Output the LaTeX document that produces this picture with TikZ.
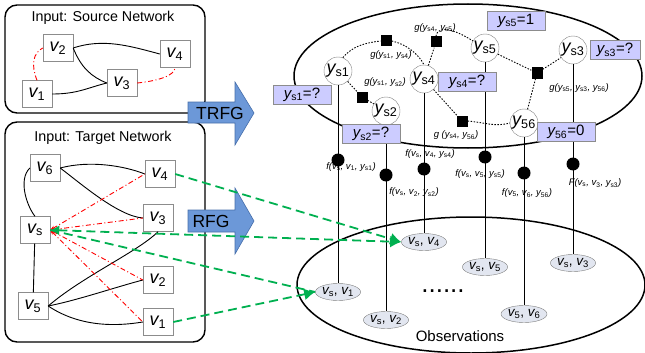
\documentclass[tikz,border=0pt]{standalone}
\usepackage{fontspec}
\setmainfont{Liberation Sans}
\usetikzlibrary{positioning, arrows.meta, shapes.geometric}

\definecolor{arrowblue}{RGB}{108,152,216}
\definecolor{arrowedge}{RGB}{70,110,170}
\definecolor{labfill}{RGB}{204,204,255}
\definecolor{obsfill}{RGB}{226,230,240}
\definecolor{dashgreen}{RGB}{0,176,80}

\newcommand{\vsub}[2]{{\itshape #1}\textsubscript{\upshape #2}}

\tikzset{
  netbox/.style={line width=1.4pt, rounded corners=12pt},
  boxtitle/.style={font=\fontsize{14.3}{16}\selectfont},
  netnode/.style={draw=black!45, fill=white, minimum width=30pt, minimum height=27pt,
    inner sep=0pt, font=\fontsize{18}{18}\selectfont},
  netedge/.style={line width=0.9pt, black},
  reddash/.style={red, line width=0.9pt, dash pattern=on 5pt off 2.5pt on 1pt off 2.5pt},
  greendash/.style={dashgreen, line width=1.8pt, dash pattern=on 9pt off 5pt},
  bigarrow/.style={fill=arrowblue, draw=arrowedge, line width=0.6pt},
  arrowtext/.style={font=\fontsize{17.5}{17.5}\selectfont},
  varnode/.style={circle, draw=black!50, fill=white, minimum size=28pt, inner sep=0pt,
    font=\fontsize{18}{18}\selectfont},
  factorsq/.style={fill=black, minimum size=11pt, inner sep=0pt},
  factordot/.style={circle, fill=black, minimum size=13pt, inner sep=0pt},
  factoredge/.style={line width=0.9pt, dash pattern=on 1.5pt off 1.5pt},
  flabel/.style={font=\fontsize{9.5}{10}\selectfont\itshape},
  vline/.style={line width=0.9pt},
  obsnode/.style={ellipse, draw=black!50, fill=obsfill, minimum width=43pt, minimum height=17pt,
    inner sep=0pt, font=\fontsize{13.5}{14}\selectfont},
  labbox/.style={draw=black!45, fill=labfill, minimum width=58pt, minimum height=19pt,
    inner sep=0pt, font=\fontsize{15}{15}\selectfont},
}

\begin{document}
\begin{tikzpicture}[x=1pt, y=-1pt]
  \useasboundingbox (0,0) rectangle (645,353);

  % source network
  \draw[netbox] (5,5) rectangle (205,113);
  \node[boxtitle] (stitle) at (103,18) {Input: Source Network};
  \node[netnode] (sv2) at (58,48) {\vsub{v}{2}};
  \node[netnode] (sv4) at (175,54) {\vsub{v}{4}};
  \node[netnode] (sv3) at (122,83) {\vsub{v}{3}};
  \node[netnode] (sv1) at (37,94) {\vsub{v}{1}};
  \draw[netedge] (sv2.east) .. controls +(30,-10) and +(-30,-8) .. (sv4.west);
  \draw[netedge] (sv2.east) .. controls +(8,20) and +(-15,-6) .. (sv3.west);
  \draw[netedge] (sv1.east) .. controls +(25,0) and +(-20,5) .. (sv3.west);
  \draw[reddash] (sv1.north) .. controls +(-6,-15) and +(-10,5) .. (sv2.west);
  \draw[reddash] (sv3.east) .. controls +(20,-2) and +(0,8) .. (sv4.south);

  % target network
  \draw[netbox] (5,122) rectangle (205,342);
  \node[boxtitle] (ttitle) at (103,138) {Input: Target Network};
  \node[netnode] (tv6) at (45,168) {\vsub{v}{6}};
  \node[netnode] (tv4) at (160,174) {\vsub{v}{4}};
  \node[netnode] (tvs) at (35,230) {\vsub{v}{s}};
  \node[netnode] (tv3) at (158,218) {\vsub{v}{3}};
  \node[netnode] (tv2) at (158,280) {\vsub{v}{2}};
  \node[netnode] (tv5) at (33,306) {\vsub{v}{5}};
  \node[netnode] (tv1) at (158,322) {\vsub{v}{1}};
  \draw[netedge] (tv6.east) .. controls +(30,-8) and +(-20,-8) .. (tv4.west);
  \draw[netedge] (tv6.east) .. controls +(20,15) and +(-25,-2) .. (tv3.west);
  \draw[netedge] (tv6.west) .. controls +(-12,12) and +(-8,-10) .. (tvs.north);
  \draw[netedge] (tvs) -- (tv5);
  \draw[netedge] (tv5.east) .. controls +(35,-30) and +(-20,20) .. (tv3.south);
  \draw[netedge] (tv5.east) .. controls +(30,-6) and +(-30,8) .. (tv2.west);
  \draw[netedge] (tv5.east) .. controls +(30,20) and +(-30,5) .. (tv1.west);
  \foreach \t in {tv4, tv3, tv2, tv1}
    \draw[reddash, {Stealth[length=5pt]}-] (tvs.east) -- (\t.west);

  % big arrows
  \draw[bigarrow] (188,102) -- (235,102) -- (235,82) -- (254,113) -- (235,145)
    -- (235,123) -- (188,123) -- cycle;
  \node[arrowtext] (trfg) at (220,113) {TRFG};
  \draw[bigarrow] (188,210) -- (235,210) -- (235,188) -- (254,221) -- (235,254)
    -- (235,232) -- (188,232) -- cycle;
  \node[arrowtext] (rfg) at (211,221) {RFG};

  % the two ellipses
  \draw[line width=1.5pt] (468,76) ellipse (174 and 72);
  \draw[line width=1.5pt] (471,285) ellipse (174 and 68);
  \node[font=\fontsize{15}{15}\selectfont] (obstitle) at (460,336) {Observations};
  \node[font=\fontsize{26}{26}\selectfont] (dots) at (443,291) {......};

  % variables
  \node[varnode] (ys1) at (338,71) {\vsub{y}{s1}};
  \node[varnode] (ys2) at (386,111) {\vsub{y}{s2}};
  \node[varnode] (ys4) at (424,79) {\vsub{y}{s4}};
  \node[varnode] (ys5) at (485,48) {\vsub{y}{s5}};
  \node[varnode] (ys3) at (573,50) {\vsub{y}{s3}};
  \node[varnode] (y56) at (524,123) {\vsub{y}{56}};

  % factors between variables
  \node[factorsq] (f14) at (386,41) {};
  \node[factorsq] (f12) at (362,97) {};
  \node[factorsq] (f45) at (436,42) {};
  \node[factorsq] (fc) at (537,73) {};
  \node[factorsq] (f456) at (462,121) {};
  \draw[factoredge] (ys1.70) .. controls +(10,-12) and +(-15,2) .. (f14.west);
  \draw[factoredge] (f14.east) .. controls +(15,3) and +(-5,-10) .. (ys4.north);
  \draw[factoredge] (ys1) -- (f12);
  \draw[factoredge] (f12) -- (ys2);
  \draw[factoredge] (ys4) -- (f45);
  \draw[factoredge] (f45.north) .. controls +(2,-14) and +(-12,-8) .. (ys5.150);
  \draw[factoredge] (ys5) -- (fc);
  \draw[factoredge] (fc) -- (ys3);
  \draw[factoredge] (fc) -- (y56);
  \draw[factoredge] (ys4) -- (f456);
  \draw[factoredge] (f456.east) .. controls +(20,2) and +(-15,4) .. (y56.west);
  \node[flabel] (g14) at (391,55) {g(\vsub{y}{s1}, \vsub{y}{s4})};
  \node[flabel] (g12) at (385,82) {g(\vsub{y}{s1}, \vsub{y}{s2})};
  \node[flabel] (g45) at (435,28) {g(\vsub{y}{s4}, \vsub{y}{s5})};
  \node[flabel] (gc) at (579,88) {g(\vsub{y}{s5}, \vsub{y}{s3}, \vsub{y}{56})};
  \node[flabel] (g456) at (456,135) {g (\vsub{y}{s4}, \vsub{y}{56})};

  % observations and their factors
  \node[obsnode] (o1) at (338,292) {\vsub{v}{s},\ \vsub{v}{1}};
  \node[obsnode] (o2) at (386,320) {\vsub{v}{s},\ \vsub{v}{2}};
  \node[obsnode] (o4) at (424,242) {\vsub{v}{s},\ \vsub{v}{4}};
  \node[obsnode] (o5) at (485,267) {\vsub{v}{s},\ \vsub{v}{5}};
  \node[obsnode] (o56) at (524,314) {\vsub{v}{5},\ \vsub{v}{6}};
  \node[obsnode] (o3) at (573,263) {\vsub{v}{s},\ \vsub{v}{3}};
  \foreach \a/\b in {ys1/o1, ys2/o2, ys4/o4, ys5/o5, y56/o56, ys3/o3}
    \draw[vline] (\a) -- (\b);
  \node[factordot] (d1) at (338,160) {};
  \node[factordot] (d2) at (386,175) {};
  \node[factordot] (d4) at (424,169) {};
  \node[factordot] (d5) at (485,157) {};
  \node[factordot] (d56) at (524,173) {};
  \node[factordot] (d3) at (573,164) {};
  \node[flabel] (fl1) at (351,167) {f(\vsub{v}{s}, \vsub{v}{1}, \vsub{y}{s1})};
  \node[flabel] (fl2) at (414,192) {f(\vsub{v}{s}, \vsub{v}{2}, \vsub{y}{s2})};
  \node[flabel] (fl4) at (430,154) {f(\vsub{v}{s}, \vsub{v}{4}, \vsub{y}{s4})};
  \node[flabel] (fl5) at (480,174) {f(\vsub{v}{s}, \vsub{v}{5}, \vsub{y}{s5})};
  \node[flabel] (fl56) at (527,193) {f(\vsub{v}{5}, \vsub{v}{6}, \vsub{y}{56})};
  \node[flabel] (fl3) at (595,183) {F(\vsub{v}{s}, \vsub{v}{3}, \vsub{y}{s3})};

  % green mapping lines
  \draw[greendash, -{Latex[length=11pt, width=12pt]}] (tv4.east) -- (o4.west);
  \draw[greendash, {Latex[length=9pt, width=10pt]}-{Latex[length=11pt, width=12pt]}]
    (tvs.east) -- (o4.west);
  \draw[greendash] (tvs.east) -- (o1.west);
  \draw[greendash, -{Latex[length=11pt, width=12pt]}] (tv1.east) -- (o1.west);

  % label boxes
  \node[labbox] (l1) at (302,95) {\vsub{y}{s1}=?};
  \node[labbox] (l2) at (371,134) {\vsub{y}{s2}=?};
  \node[labbox] (l4) at (467,82) {\vsub{y}{s4}=?};
  \node[labbox] (l5) at (516,21) {\vsub{y}{s5}=1};
  \node[labbox, minimum width=50pt] (l3) at (615,50) {\vsub{y}{s3}=?};
  \node[labbox] (l56) at (566,132) {\vsub{y}{56}=0};
\end{tikzpicture}
\end{document}
